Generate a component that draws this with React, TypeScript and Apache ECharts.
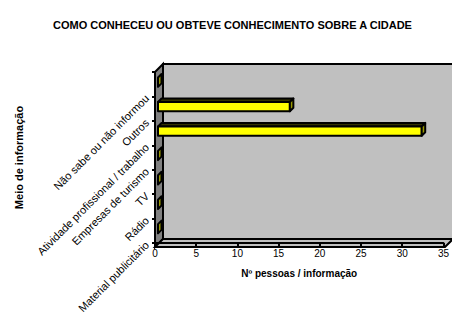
import React, { useEffect, useRef } from "react";
import * as echarts from "echarts";

const categories = [
  "Material publicitário",
  "Rádio",
  "TV",
  "Empresas de turismo",
  "Atividade profissional / trabalho",
  "Outros",
  "Não sabe ou não informou",
];
const values = [0, 0, 0, 0, 32, 16, 0];
const labelTicks = [...categories, ""];
const xMax = 35;
const xStep = 5;
const titleText = "COMO CONHECEU OU OBTEVE CONHECIMENTO SOBRE A CIDADE";
const xName = "Nº pessoas / informação";
const yName = "Meio de informação";

const FONT = "'Liberation Sans', Arial, sans-serif";
const W = 452;
const H = 316;
const G = { left: 155, top: 72, right: 7, bottom: 69 };
const DEPTH = 8;

export default function App() {
  const ref = useRef<HTMLDivElement>(null);
  useEffect(() => {
    if (!ref.current) return;
    const chart = echarts.init(ref.current, null, { renderer: "svg" });
    const x0 = G.left;
    const x1 = W - G.right;
    const y0 = G.top;
    const y1 = H - G.bottom;
    const d = DEPTH;
    const wallStroke = { stroke: "#000", lineWidth: 2 };
    chart.setOption({
      animation: false,
      backgroundColor: "#fff",
      title: {
        text: titleText,
        left: 48,
        top: 14,
        textStyle: { fontFamily: FONT, fontSize: 11, fontWeight: "bold", color: "#000" },
      },
      graphic: [
        {
          type: "rect",
          z: -1,
          shape: { x: x0 + d, y: y0 - d, width: x1 - x0, height: y1 - y0 },
          style: { fill: "#C0C0C0", ...wallStroke },
        },
        {
          type: "polygon",
          z: -1,
          shape: { points: [[x0, y0], [x0 + d, y0 - d], [x0 + d, y1 - d], [x0, y1]] },
          style: { fill: "#808080", ...wallStroke },
        },
        {
          type: "polygon",
          z: -1,
          shape: { points: [[x0, y1], [x1, y1], [x1 + d, y1 - d], [x0 + d, y1 - d]] },
          style: { fill: "#C0C0C0", ...wallStroke },
        },
      ],
      grid: { left: G.left, top: G.top, right: G.right, bottom: G.bottom, containLabel: false },
      xAxis: {
        type: "value",
        min: 0,
        max: xMax,
        interval: xStep,
        splitLine: { show: false },
        axisLine: { show: true, lineStyle: { color: "#000", width: 2 } },
        axisTick: { show: true, length: 3, lineStyle: { color: "#000", width: 2 } },
        axisLabel: { color: "#000", fontFamily: FONT, fontSize: 10, margin: 6 },
        name: xName,
        nameLocation: "middle",
        nameGap: 26,
        nameTextStyle: { fontFamily: FONT, fontSize: 10, fontWeight: "bold", color: "#000" },
      },
      yAxis: [
        {
          type: "category",
          data: categories,
          position: "left",
          axisLine: { show: true, lineStyle: { color: "#000", width: 2 } },
          axisTick: { show: true, length: 3, lineStyle: { color: "#000", width: 2 } },
          axisLabel: { show: false },
          splitLine: { show: false },
          name: yName,
          nameLocation: "middle",
          nameRotate: 90,
          nameGap: 131,
          nameTextStyle: { fontFamily: FONT, fontSize: 11, fontWeight: "bold", color: "#000" },
        },
        {
          type: "category",
          data: labelTicks,
          position: "left",
          boundaryGap: false,
          axisLine: { show: false },
          axisTick: { show: false },
          splitLine: { show: false },
          axisLabel: {
            color: "#000",
            fontFamily: FONT,
            fontSize: 11,
            rotate: 45,
            margin: 8,
            interval: 0,
          },
        },
      ],
      series: [
        {
          type: "custom",
          xAxisIndex: 0,
          yAxisIndex: 0,
          encode: { x: 0, y: 1 },
          data: values.map((v, i) => [v, i]),
          renderItem: (params: any, api: any) => {
            const v = api.value(0);
            const idx = api.value(1);
            const p0 = api.coord([0, idx]);
            const p1 = api.coord([v, idx]);
            const band = api.size([0, 1])[1];
            const h = band * 0.38;
            const s = 3;
            const dd = 3.5;
            const xa = p0[0] + s;
            const xb = p1[0] + s;
            const yc = p0[1] - s + 1;
            const yt = yc - h / 2;
            const yb = yc + h / 2;
            const stroke = { stroke: "#000", lineWidth: 2, lineJoin: "round" };
            const children: any[] = [];
            if (xb - xa > 0.5) {
              children.push({
                type: "polygon",
                shape: { points: [[xa, yt], [xb, yt], [xb + dd, yt - dd], [xa + dd, yt - dd]] },
                style: { fill: "#333300", ...stroke },
              });
              children.push({
                type: "rect",
                shape: { x: xa, y: yt, width: xb - xa, height: yb - yt },
                style: { fill: "#FFFF00", ...stroke },
              });
            }
            children.push({
              type: "polygon",
              shape: { points: [[xb, yt], [xb + dd, yt - dd], [xb + dd, yb - dd], [xb, yb]] },
              style: { fill: "#999900", ...stroke },
            });
            return { type: "group", children };
          },
        },
      ],
    });
    return () => chart.dispose();
  }, []);
  return (
    <div
      ref={ref}
      style={{ position: "absolute", left: 0, top: 0, width: W, height: H }}
    />
  );
}
